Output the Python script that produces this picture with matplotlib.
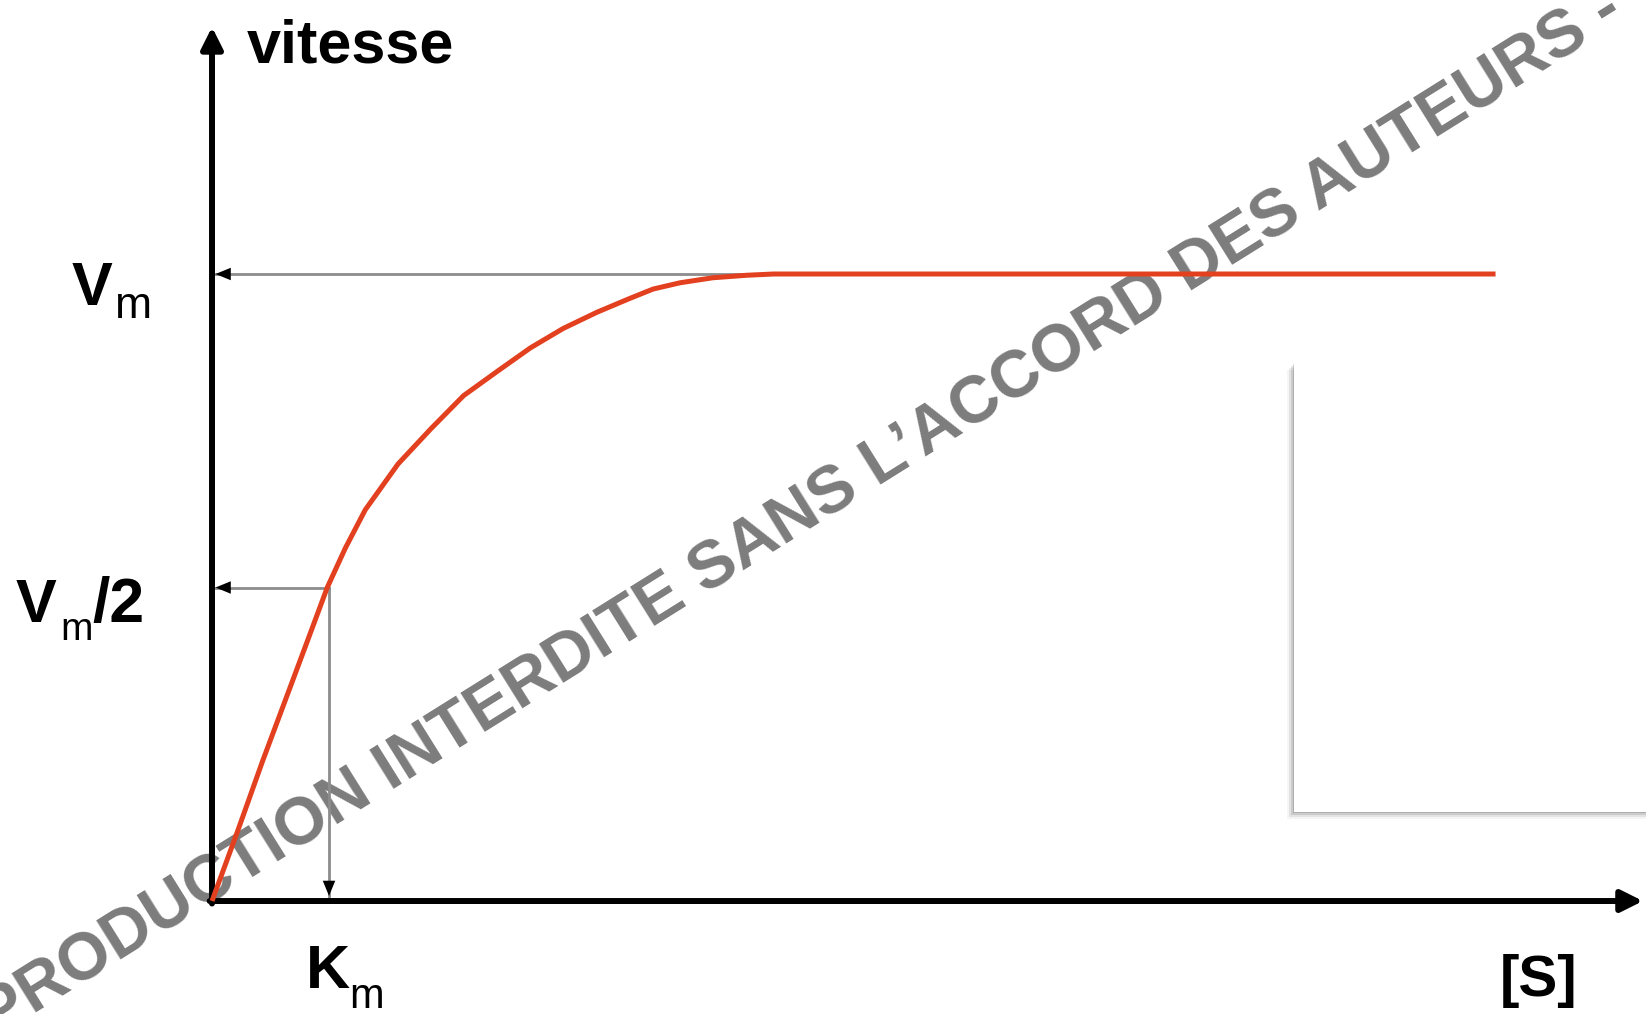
import matplotlib
matplotlib.use('Agg')
import matplotlib.pyplot as plt
from matplotlib.patches import Rectangle

plt.rcParams['font.family'] = ['Liberation Sans', 'DejaVu Sans']

# Michaelis curve as drawn: [S] in units of Km, vitesse in units of Vm
s_curve = [0, 0.22, 0.43, 0.63, 0.81, 0.985, 1.14, 1.31, 1.59, 1.87, 2.15, 2.44,
           2.72, 3.0, 3.29, 3.57, 3.77, 4.0, 4.28, 4.57, 4.8, 10.97]
v_curve = [0, 0.112, 0.222, 0.322, 0.412, 0.5, 0.563, 0.624, 0.697, 0.753, 0.806, 0.845,
           0.882, 0.913, 0.939, 0.961, 0.976, 0.986, 0.994, 0.998, 1.0, 1.0]

km = 1.0
vm = 1.0
s_sat = 4.8      # where the curve joins Vm
x_end = 12.23    # tip of the [S] axis
y_end = 1.394    # tip of the vitesse axis

watermark = "REPRODUCTION INTERDITE SANS L\u2019ACCORD DES AUTEURS -"

W, H = 1646, 1014
fig = plt.figure(figsize=(W / 100, H / 100), dpi=100)
ax = fig.add_axes([0, 0, 1, 1])
ax.set_xlim(-1.812, 12.256)
ax.set_ylim(-0.1802, 1.437)
ax.axis('off')

# watermark behind everything
ax.text(0.463, 0.468, watermark, transform=fig.transFigure, rotation=32,
        rotation_mode='anchor', ha='center', va='center', fontsize=48,
        fontweight='bold', color='#7c7c7c', zorder=1, clip_on=False)

# axes with arrow heads
axis_kw = dict(arrowstyle='-|>,head_length=13,head_width=6.5', color='black',
               lw=4.3, shrinkA=0, shrinkB=0, mutation_scale=1)
ax.annotate('', xy=(0, y_end), xytext=(0, -0.004), arrowprops=axis_kw, zorder=3)
ax.annotate('', xy=(x_end, 0), xytext=(-0.02, 0), arrowprops=axis_kw, zorder=3)

# guide lines (grey) with small black heads
guide = '#8c8c8c'
ax.plot([0, s_sat], [vm, vm], color=guide, lw=2.0, zorder=2)
ax.plot([0, km], [vm / 2, vm / 2], color=guide, lw=2.0, zorder=2)
ax.plot([km, km], [0, vm / 2], color=guide, lw=2.0, zorder=2)
head_kw = dict(arrowstyle='-|>,head_length=11,head_width=4.5', color='black',
               lw=0, shrinkA=0, shrinkB=0, mutation_scale=1)
ax.annotate('', xy=(0.03, vm), xytext=(0.3, vm), arrowprops=head_kw)
ax.annotate('', xy=(0.03, vm / 2), xytext=(0.3, vm / 2), arrowprops=head_kw)
ax.annotate('', xy=(km, 0.008), xytext=(km, 0.06), arrowprops=head_kw)

# the curve
ax.plot(s_curve, v_curve, color='#e2401f', lw=3.6, solid_joinstyle='round',
        solid_capstyle='butt', zorder=4)

# labels
big = 44
ax.text(0.30, 1.338, 'vitesse', fontsize=44, fontweight='bold', va='baseline')
ax.text(-1.197, 0.951, 'V', fontsize=big, fontweight='bold', va='baseline')
ax.text(-0.829, 0.930, 'm', fontsize=32, va='baseline')
ax.text(-1.675, 0.445, 'V', fontsize=big, fontweight='bold', va='baseline')
ax.text(-1.299, 0.416, 'm', fontsize=28, va='baseline')
ax.text(-1.02, 0.445, '/2', fontsize=45, fontweight='bold', va='baseline')
ax.text(0.803, -0.139, 'K', fontsize=big, fontweight='bold', va='baseline')
ax.text(1.171, -0.171, 'm', fontsize=30, va='baseline')
ax.text(11.01, -0.152, '[S]', fontsize=42, fontweight='bold', va='baseline')

# white panel with a soft shadow on the right
px, py = 1 / W, 1 / H
bx, by, bw, bh = 1294 * px, 1 - 812 * py, 0.25, 449 * py
for k, a in [(7, 0.04), (5, 0.07), (3, 0.10), (1, 0.14)]:
    ax.add_patch(Rectangle((bx - k * px, by - k * py), bw, bh, transform=fig.transFigure,
                           facecolor='black', alpha=a, lw=0, zorder=5, clip_on=False))
ax.add_patch(Rectangle((bx, by), bw, bh, transform=fig.transFigure, facecolor='white',
                       lw=0, zorder=6, clip_on=False))

fig.savefig('out.png', dpi=100)
